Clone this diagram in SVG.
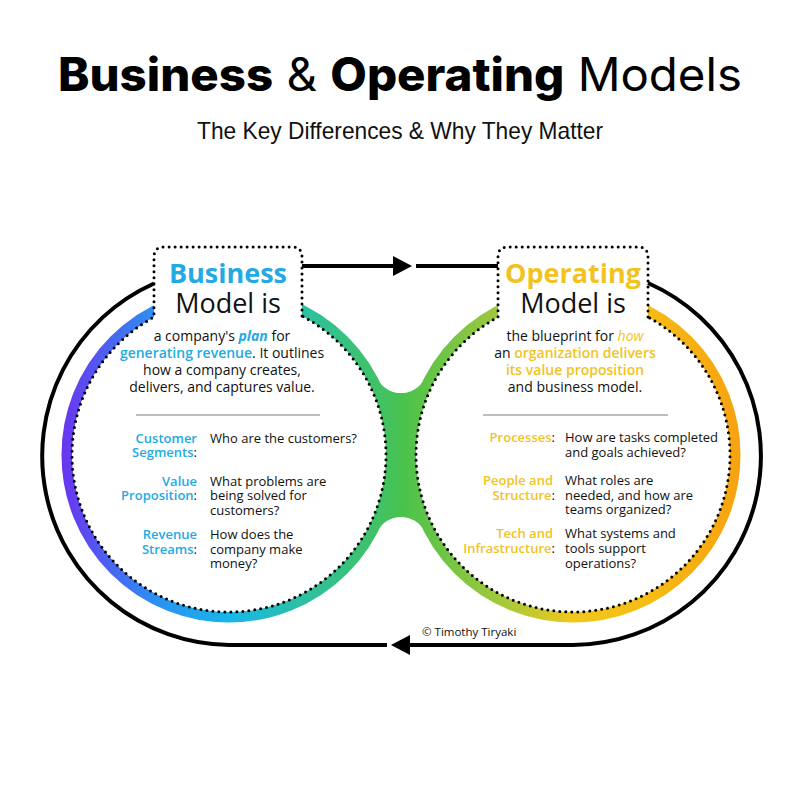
<svg xmlns="http://www.w3.org/2000/svg" width="800" height="800" viewBox="0 0 800 800">
<defs>
<linearGradient id="g" gradientUnits="userSpaceOnUse" x1="63" y1="0" x2="740" y2="0">
<stop offset="0" stop-color="#6a35ef"/>
<stop offset="0.133" stop-color="#2d8ff2"/>
<stop offset="0.247" stop-color="#17b6ea"/>
<stop offset="0.35" stop-color="#2cc0a5"/>
<stop offset="0.49" stop-color="#45c257"/>
<stop offset="0.505" stop-color="#4cc24c"/>
<stop offset="0.645" stop-color="#a2c83c"/>
<stop offset="0.752" stop-color="#f0c81c"/>
<stop offset="0.864" stop-color="#f6bc14"/>
<stop offset="1" stop-color="#f6a211"/>
</linearGradient>
<marker id="ah" markerUnits="userSpaceOnUse" markerWidth="19" markerHeight="20" refX="0" refY="10" orient="auto">
<path d="M0,0 L19,10 L0,20 Z" fill="#000"/>
</marker>
</defs>
<style>
.ring{fill:none;stroke:url(#g);stroke-width:11}
.inner{fill:#fff;stroke:#000;stroke-width:3;stroke-dasharray:0 6;stroke-linecap:round}
.sep{stroke:#a8a8a8;stroke-width:1.6}
.t{font-family:"Open Sans","Noto Sans",sans-serif;fill:#111}
.body{font-size:14px}
.list{font-size:13px}
.head{font-size:27px}
.cy{fill:#23aae3}
.ye{fill:#f2c31e}
.b{font-weight:700}
.sb{font-weight:600}
.conn{fill:none;stroke:#000;stroke-width:4}
</style>
<rect width="800" height="800" fill="#fff"/>
<g id="title">
<text x="400" y="91" text-anchor="middle" font-family="Inter,'Liberation Sans',sans-serif" font-size="46" textLength="684" lengthAdjust="spacingAndGlyphs" fill="#000"><tspan font-weight="800">Business</tspan><tspan font-weight="400"> &amp; </tspan><tspan font-weight="800">Operating</tspan><tspan font-weight="400"> Models</tspan></text>
<text x="400" y="139" text-anchor="middle" font-family="'Liberation Sans',sans-serif" font-size="24" textLength="406" lengthAdjust="spacingAndGlyphs" fill="#111">The Key Differences &amp; Why They Matter</text>
</g>
<g id="bridge">
<path d="M377.5,378.7 A26.4,26.4 0 0 0 424.5,378.7 L430,455 L424.5,531.3 A26.4,26.4 0 0 0 377.5,531.3 L372,455 Z" fill="url(#g)"/>
</g>
<g id="business-model">
<circle class="ring" cx="229" cy="455" r="162"/>
<path class="inner" d="M302,316 V257 Q302,247 292,247 H164 Q154,247 154,257 V317.07 A157,157 0 1 0 302,316 Z"/>
<text class="t head b cy" x="228" y="283" text-anchor="middle">Business</text>
<text class="t head" x="228" y="313" text-anchor="middle">Model is</text>
<text class="t body" x="222" y="341" text-anchor="middle">a company's <tspan class="cy b" font-style="italic">plan</tspan> for</text>
<text class="t body" x="222" y="358" text-anchor="middle"><tspan class="cy sb">generating revenue</tspan>. It outlines</text>
<text class="t body" x="222" y="375" text-anchor="middle">how a company creates,</text>
<text class="t body" x="222" y="392" text-anchor="middle">delivers, and captures value.</text>
<line class="sep" x1="136" y1="415" x2="320" y2="415"/>
<text class="t list" text-anchor="end"><tspan class="cy sb" x="197" y="443">Customer</tspan><tspan x="197" y="457"><tspan class="cy sb">Segments</tspan>:</tspan></text>
<text class="t list" x="210" y="443">Who are the customers?</text>
<text class="t list" text-anchor="end"><tspan class="cy sb" x="197" y="486">Value</tspan><tspan x="197" y="500"><tspan class="cy sb">Proposition</tspan>:</tspan></text>
<text class="t list"><tspan x="210" y="486">What problems are</tspan><tspan x="210" y="500">being solved for</tspan><tspan x="210" y="515">customers?</tspan></text>
<text class="t list" text-anchor="end"><tspan class="cy sb" x="197" y="539">Revenue</tspan><tspan x="197" y="554"><tspan class="cy sb">Streams</tspan>:</tspan></text>
<text class="t list"><tspan x="210" y="539">How does the</tspan><tspan x="210" y="554">company make</tspan><tspan x="210" y="568">money?</tspan></text>
</g>
<g id="operating-model">
<circle class="ring" cx="573" cy="455" r="162"/>
<path class="inner" d="M648,317.07 V257 Q648,247 638,247 H508 Q498,247 498,257 V317.07 A157,157 0 1 0 648,317.07 Z"/>
<text class="t head b ye" x="573" y="283" text-anchor="middle">Operating</text>
<text class="t head" x="573" y="313" text-anchor="middle">Model is</text>
<text class="t body" x="575" y="341" text-anchor="middle">the blueprint for <tspan class="ye" font-style="italic">how</tspan></text>
<text class="t body" x="575" y="358" text-anchor="middle">an <tspan class="ye sb">organization delivers</tspan></text>
<text class="t body ye sb" x="575" y="375" text-anchor="middle">its value proposition</text>
<text class="t body" x="575" y="392" text-anchor="middle">and business model.</text>
<line class="sep" x1="483" y1="415" x2="668" y2="415"/>
<text class="t list" text-anchor="end"><tspan x="555" y="442"><tspan class="ye sb">Processes</tspan>:</tspan></text>
<text class="t list"><tspan x="565" y="442">How are tasks completed</tspan><tspan x="565" y="457">and goals achieved?</tspan></text>
<text class="t list" text-anchor="end"><tspan class="ye sb" x="553" y="485">People and</tspan><tspan x="555" y="500"><tspan class="ye sb">Structure</tspan>:</tspan></text>
<text class="t list"><tspan x="565" y="485">What roles are</tspan><tspan x="565" y="500">needed, and how are</tspan><tspan x="565" y="514">teams organized?</tspan></text>
<text class="t list" text-anchor="end"><tspan class="ye sb" x="553" y="538">Tech and</tspan><tspan x="555" y="553"><tspan class="ye sb">Infrastructure</tspan>:</tspan></text>
<text class="t list"><tspan x="565" y="538">What systems and</tspan><tspan x="565" y="553">tools support</tspan><tspan x="565" y="568">operations?</tspan></text>
</g>
<g id="connectors">
<path class="conn" d="M302,266 H393" marker-end="url(#ah)"/>
<path class="conn" d="M416,266 H498"/>
<path class="conn" d="M648,283 A189,189 0 0 1 573,645 H410" marker-end="url(#ah)"/>
<path class="conn" d="M387,645 H229 A189,189 0 0 1 154,283.5"/>
</g>
<text class="t" x="422" y="636" font-size="11.5" fill="#444">© Timothy Tiryaki</text>
</svg>
